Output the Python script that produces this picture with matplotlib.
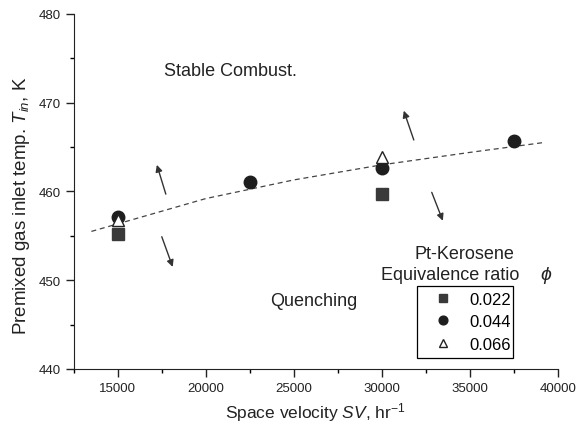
import numpy as np
import matplotlib.pyplot as plt

plt.rcParams['font.family'] = ['Liberation Sans', 'DejaVu Sans']
plt.rcParams['mathtext.fontset'] = 'custom'
plt.rcParams['mathtext.it'] = 'Liberation Sans:italic'
plt.rcParams['mathtext.rm'] = 'Liberation Sans'

# データ
sv_022 = [15000, 30000]
t_022 = [455.2, 459.7]
sv_044 = [15000, 22500, 30000, 37500]
t_044 = [457.1, 461.1, 462.6, 465.7]
sv_066 = [15000, 30000]
t_066 = [456.8, 463.9]

# 近似曲線
sv_fit = [13500, 20000, 25000, 30000, 35000, 39150]
t_fit = [455.5, 459.2, 461.3, 463.0, 464.4, 465.5]

# 矢印 (始点, 終点)
arrows = [((17730, 459.7), (17220, 463.0)),
          ((17500, 454.9), (18120, 451.5)),
          ((31820, 465.8), (31250, 469.1)),
          ((32840, 459.9), (33470, 456.7))]

fig = plt.figure(figsize=(5.81, 4.27), dpi=100)
ax = fig.add_axes([0.127, 0.1335, 0.833, 0.8315])

ax.plot(sv_fit, t_fit, '--', color='#444444', lw=0.9, dashes=(4, 3))
ax.plot(sv_022, t_022, 's', color='#3a3a3a', ms=8, label='0.022', zorder=3)
ax.plot(sv_044, t_044, 'o', color='#1e1e1e', ms=9, label='0.044', zorder=3)
ax.plot(sv_066, t_066, '^', mfc='white', mec='#222222', mew=1.0, ms=9, label='0.066', zorder=4)

for (x0, y0), (x1, y1) in arrows:
    ax.annotate('', xy=(x1, y1), xytext=(x0, y0),
                arrowprops=dict(arrowstyle='-|>', color='#333333', lw=1.0,
                                mutation_scale=10, shrinkA=0, shrinkB=0))

ax.text(17650, 473.6, 'Stable Combust.', fontsize=13, va='center', color='#222222')
ax.text(23650, 447.7, 'Quenching', fontsize=13, va='center', color='#222222')
ax.text(34720, 453.0, 'Pt-Kerosene', fontsize=13, va='center', ha='center', color='#222222')
ax.text(33860, 450.7, 'Equivalence ratio', fontsize=13, va='center', ha='center', color='#222222')
ax.text(39350, 450.7, r'$\phi$', fontsize=14, va='center', ha='center', color='#222222')

leg = ax.legend(loc='upper left', bbox_to_anchor=(0.7087, 0.0338, 0.198, 0.2),
                mode='expand', borderaxespad=0, fancybox=False, framealpha=1,
                edgecolor='black', fontsize=12, handletextpad=0.4, borderpad=0.35,
                labelspacing=0.45, handlelength=2.4, markerscale=0.7)
leg.get_frame().set_linewidth(0.9)

ax.set_xlim(12500, 40000)
ax.set_ylim(440, 480)
ax.set_xticks(np.arange(15000, 40001, 5000))
ax.set_xticks(np.arange(12500, 40001, 2500), minor=True)
ax.set_yticks(np.arange(440, 481, 10))
ax.set_yticks(np.arange(440, 481, 5), minor=True)
ax.tick_params(which='major', direction='out', length=6, width=1, labelsize=9.5, colors='#222222')
ax.tick_params(which='minor', direction='out', length=3, width=1)

ax.spines['top'].set_visible(False)
ax.spines['right'].set_visible(False)
for s in ['left', 'bottom']:
    ax.spines[s].set_color('#222222')

ax.set_xlabel(r'Space velocity $SV$, hr$^{-1}$', fontsize=12.5, color='#222222')
ax.set_ylabel(r'Premixed gas inlet temp. $T_{in}$, K', fontsize=13.5, color='#222222')
ax.yaxis.set_label_coords(-0.087, 0.462)

fig.savefig('out.png', dpi=100)
